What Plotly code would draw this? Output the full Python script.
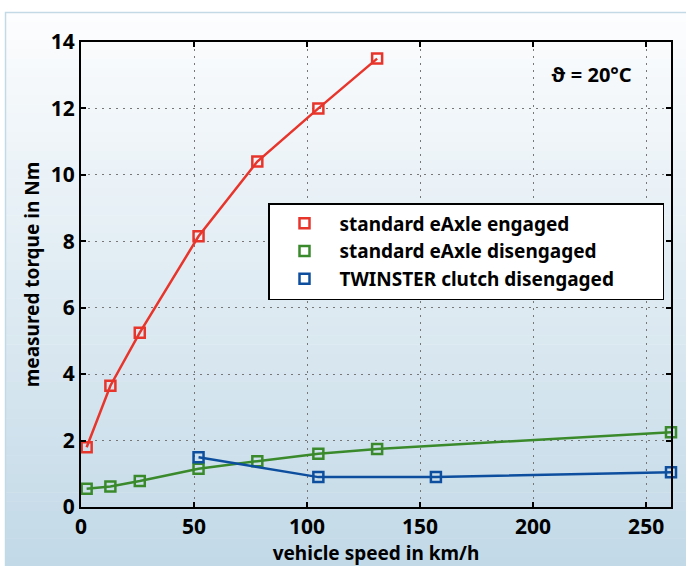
import plotly.graph_objects as go

# ---- data ----
red_x = [2.5, 13, 26, 52, 78, 105, 131]
red_y = [1.8, 3.65, 5.25, 8.15, 10.4, 12.0, 13.5]
green_x = [2.5, 13, 26, 52, 78, 105, 131, 261]
green_y = [0.55, 0.62, 0.78, 1.15, 1.38, 1.6, 1.75, 2.25]
blue_x = [52, 105, 157, 261]
blue_y = [1.5, 0.9, 0.9, 1.05]
series_names = ["standard eAxle engaged", "standard eAxle disengaged", "TWINSTER clutch disengaged"]
colors = ["#e8352b", "#3a8a2c", "#0d4f9e"]
x_ticks = [0, 50, 100, 150, 200, 250]
y_ticks = [0, 2, 4, 6, 8, 10, 12, 14]

FONT = "Noto Sans"
W, H = 686, 566
L, R, T, B = 81, 671, 42, 507

fig = go.Figure()

for xs, ys, c in [(red_x, red_y, colors[0]), (green_x, green_y, colors[1]), (blue_x, blue_y, colors[2])]:
    fig.add_trace(go.Scatter(
        x=xs, y=ys, mode="lines+markers", showlegend=False, cliponaxis=False,
        line=dict(color=c, width=2.5),
        marker=dict(symbol="square-open", size=10, color=c, line=dict(width=2.5, color=c)),
    ))
# legend-only entries (marker only)
for name, c in zip(series_names, colors):
    fig.add_trace(go.Scatter(
        x=[None], y=[None], mode="markers", name=name,
        marker=dict(symbol="square-open", size=10, color=c, line=dict(width=2.5, color=c)),
    ))

def px2x(px):
    return (px - L) / (R - L)

def py2y(py):
    return (B - py) / (B - T)

# gradient background panel
shapes = []
top, bot = 12, 566
n = 60
for i in range(n):
    y0 = top + (bot - top) * i / n
    y1 = top + (bot - top) * (i + 1) / n
    t = (i + 0.5) / n
    r = round(252 + (194 - 252) * t)
    g = round(253 + (217 - 253) * t)
    b = round(254 + (231 - 254) * t)
    shapes.append(dict(type="rect", xref="paper", yref="paper", layer="below",
                       x0=px2x(5), x1=px2x(690), y0=py2y(y1) - 0.001, y1=py2y(y0),
                       fillcolor=f"rgb({r},{g},{b})", line=dict(width=0)))
shapes.append(dict(type="rect", xref="paper", yref="paper", layer="below",
                   x0=px2x(5.5), x1=px2x(690), y0=py2y(570), y1=py2y(12.5),
                   fillcolor="rgba(0,0,0,0)", line=dict(width=1.5, color="#c3d9e6")))

fig.update_layout(
    width=W, height=H,
    margin=dict(l=L, r=W - R, t=T, b=H - B, pad=0, autoexpand=False),
    paper_bgcolor="white",
    plot_bgcolor="rgba(0,0,0,0)",
    font=dict(family=FONT, size=19, color="black", weight="bold"),
    shapes=shapes,
    showlegend=True,
    legend=dict(
        x=px2x(268), y=py2y(203), xanchor="left", yanchor="top",
        orientation="h",
        bgcolor="white", bordercolor="black", borderwidth=1.5,
        font=dict(family=FONT, size=19, color="black", weight="bold"),
        itemwidth=60, entrywidth=318, entrywidthmode="pixels",
    ),
    annotations=[dict(
        x=px2x(591), y=py2y(75), xref="paper", yref="paper", showarrow=False,
        xanchor="center", yanchor="middle",
        text="ϑ = 20°C", font=dict(family=FONT, size=20, color="black", weight="bold"),
    )],
)

fig.update_xaxes(
    range=[0, 261], tickvals=x_ticks, ticks="inside", ticklen=5, tickwidth=1.5,
    tickcolor="black", showline=True, linecolor="black", linewidth=2, mirror="ticks",
    showgrid=True, gridcolor="#777777", gridwidth=1, griddash="2px,5px", zeroline=False,
    automargin=False,
    title=dict(text="vehicle speed in km/h", standoff=1,
               font=dict(family=FONT, size=19, weight="bold")),
    tickfont=dict(family=FONT, size=21, weight="bold"),
)
fig.update_yaxes(
    range=[0, 14], tickvals=y_ticks, ticks="inside", ticklen=5, tickwidth=1.5,
    tickcolor="black", showline=True, linecolor="black", linewidth=2, mirror="ticks",
    showgrid=True, gridcolor="#777777", gridwidth=1, griddash="2px,5px", zeroline=False,
    automargin=False,
    title=dict(text="measured torque in Nm", standoff=6,
               font=dict(family=FONT, size=19, weight="bold")),
    tickfont=dict(family=FONT, size=21, weight="bold"),
)

fig.write_html("out.html", config={"displayModeBar": False},
               post_script="document.body.style.margin='0px';")
